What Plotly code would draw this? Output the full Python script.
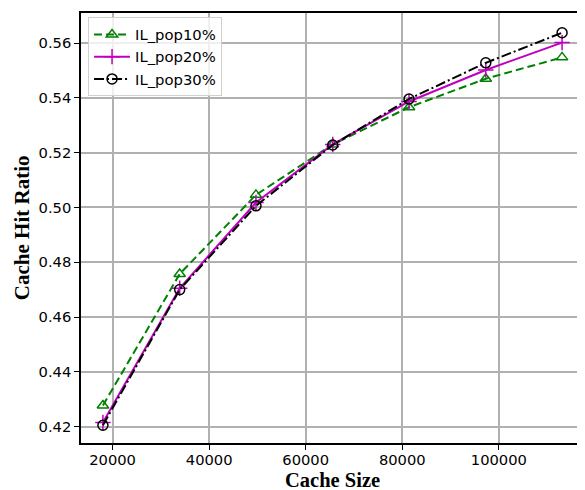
import plotly.graph_objects as go

cache_size = [18000, 33900, 49700, 65600, 81400, 97300, 113100]
il_pop10 = [0.4277, 0.4757, 0.5046, 0.5230, 0.5366, 0.5470, 0.5548]
il_pop20 = [0.4215, 0.4705, 0.5018, 0.5230, 0.5387, 0.5502, 0.5602]
il_pop30 = [0.4205, 0.4700, 0.5006, 0.5228, 0.5396, 0.5528, 0.5638]
series_names = ["IL_pop10%", "IL_pop20%", "IL_pop30%"]
x_ticks = [20000, 40000, 60000, 80000, 100000]
y_ticks = [0.42, 0.44, 0.46, 0.48, 0.50, 0.52, 0.54, 0.56]

fig = go.Figure()
fig.add_trace(go.Scatter(
    x=cache_size, y=il_pop10, name=series_names[0], mode="lines+markers",
    line=dict(color="#008000", width=2, dash="8px,4px"),
    marker=dict(symbol="triangle-up-open", size=10, color="#008000",
                line=dict(width=1.5, color="#008000"))))
fig.add_trace(go.Scatter(
    x=cache_size, y=il_pop20, name=series_names[1], mode="lines+markers",
    line=dict(color="#bf00bf", width=2),
    marker=dict(symbol="cross-thin-open", size=11, color="#bf00bf",
                line=dict(width=1.5, color="#bf00bf"))))
fig.add_trace(go.Scatter(
    x=cache_size, y=il_pop30, name=series_names[2], mode="lines+markers",
    line=dict(color="#000000", width=2, dash="10px,3px,2px,3px"),
    marker=dict(symbol="circle-open", size=10, color="#000000",
                line=dict(width=1.5, color="#000000"))))

axis_common = dict(
    showline=True, linecolor="black", linewidth=1.5, mirror=True,
    showgrid=True, gridcolor="#b0b0b0", gridwidth=2,
    ticks="outside", ticklen=5, tickwidth=1.2, tickcolor="black",
    tickfont=dict(family="DejaVu Sans", size=14.7, color="black"),
    zeroline=False, automargin=False,
)

fig.update_layout(
    width=577, height=482,
    margin=dict(l=73, r=1, t=5, b=47),
    paper_bgcolor="white", plot_bgcolor="white",
    xaxis=dict(range=[13460, 117640], tickvals=x_ticks, ticklabelstandoff=-2,
               ticktext=[str(v) for v in x_ticks], **axis_common),
    yaxis=dict(range=[0.414, 0.571], tickvals=y_ticks,
               ticktext=[f"{v:.2f}" for v in y_ticks], **axis_common),
    legend=dict(x=0.014, y=0.99, xanchor="left", yanchor="top",
                bgcolor="rgba(255,255,255,0.8)", bordercolor="#d0d0d0", borderwidth=1,
                font=dict(family="DejaVu Sans", size=14.8, color="black"),
                tracegroupgap=0, itemwidth=36),
    showlegend=True,
    annotations=[
        dict(text="<b>Cache Size</b>", xref="paper", yref="paper",
             x=0.5, y=-0.085, xanchor="center", yanchor="middle", showarrow=False,
             font=dict(family="Liberation Serif", size=20.5, color="black")),
        dict(text="<b>Cache Hit Ratio</b>", xref="paper", yref="paper",
             x=-0.117, y=0.5, xanchor="center", yanchor="middle", showarrow=False,
             textangle=-90,
             font=dict(family="Liberation Serif", size=21, color="black")),
    ],
)

fig.write_html("out.html")
